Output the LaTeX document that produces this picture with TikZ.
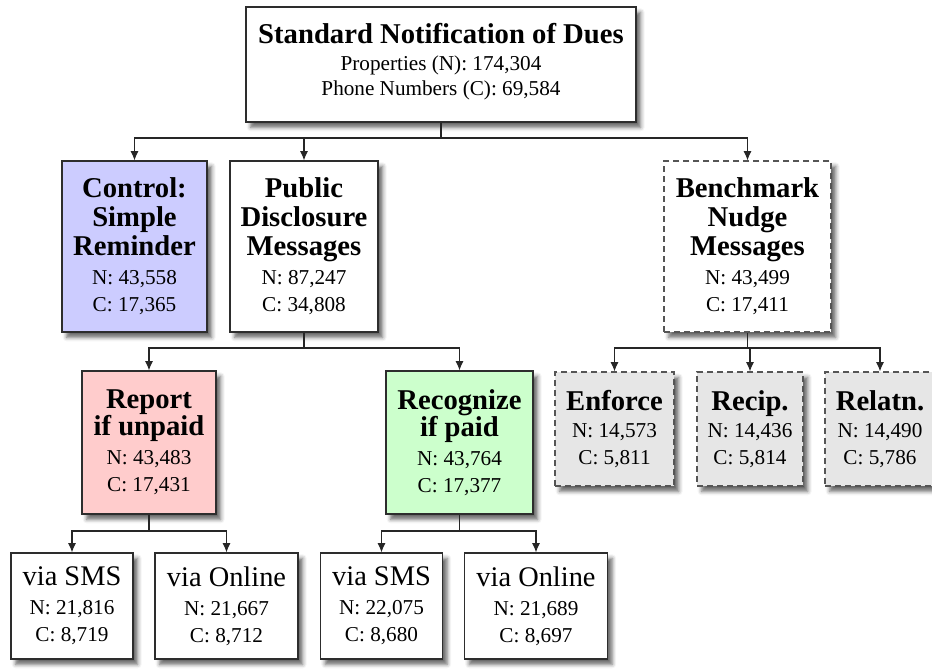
\documentclass[tikz,border=0pt]{standalone}
\usepackage{fontspec}
\setmainfont{Liberation Serif}
\usetikzlibrary{arrows.meta, shadows.blur}

\definecolor{ctrlblue}{RGB}{204,204,255}
\definecolor{reportred}{RGB}{255,204,204}
\definecolor{recoggreen}{RGB}{204,255,204}
\definecolor{benchgrey}{RGB}{230,230,230}
\definecolor{edgegrey}{RGB}{45,45,45}
\definecolor{dashgrey}{RGB}{85,85,85}

\newcommand{\hd}{\fontsize{21.5}{20.25}\selectfont\bfseries}
\newcommand{\vialine}{\fontsize{21.3}{20}\selectfont}

\begin{document}
\begin{tikzpicture}[x=0.75pt,y=0.75pt,yscale=-1,xscale=1,
	box/.style={draw=edgegrey, line width=0.8pt, fill=white, align=center, inner sep=0pt,
		font=\fontsize{15.9}{20.25}\selectfont,
		blur shadow={shadow xshift=3.5pt, shadow yshift=-4pt, shadow blur radius=3pt, shadow opacity=60}},
	dbox/.style={box, draw=dashgrey, dash pattern=on 4.5pt off 3pt},
	link/.style={draw=black!85, line width=0.8pt},
	arr/.style={link, -{Latex[length=7pt,width=6pt]}}]
		\useasboundingbox (0,0) rectangle (932,671);

		% Top box
		\node [box, minimum width=292.5pt, minimum height=86.25pt] (top) at (441,64.5) {\hd Standard Notification of Dues\\ Properties (N): 174,304\\[-1.25pt] Phone Numbers (C): 69,584\\[-12.25pt] \mbox{}};

		% Second row
		\node [box, fill=ctrlblue, minimum width=108.75pt, minimum height=128.25pt] (ctrl) at (134.5,246.5) {\hd Control:\\[1.5pt] \hd Simple\\[1.5pt] \hd Reminder\\[1.5pt] N: 43,558\\ C: 17,365};
		\node [box, minimum width=111pt, minimum height=128.25pt] (pub) at (304,246.5) {\hd Public\\[1.5pt] \hd Disclosure\\[1.5pt] \hd Messages\\[1.5pt] N: 87,247\\ C: 34,808};
		\node [dbox, minimum width=125.25pt, minimum height=128.25pt] (bench) at (747.5,246.5) {\hd Benchmark\\[1.5pt] \hd Nudge\\[1.5pt] \hd Messages\\[1.5pt] N: 43,499\\ C: 17,411};

		% Third row
		\node [box, fill=reportred, minimum width=100.5pt, minimum height=107.25pt] (report) at (149,442.5) {\hd Report\\ \hd if unpaid\\[1.5pt] N: 43,483\\ C: 17,431};
		\node [box, fill=recoggreen, minimum width=110.25pt, minimum height=107.25pt] (recog) at (459.5,442.5) {\hd Recognize\\ \hd if paid\\[1.5pt] N: 43,764\\ C: 17,377};
		\node [dbox, fill=benchgrey, minimum width=89.25pt, minimum height=85.5pt] (enforce) at (614.5,429) {\hd Enforce\\ N: 14,573\\ C: 5,811};
		\node [dbox, fill=benchgrey, minimum width=79.5pt, minimum height=85.5pt] (recip) at (750,429) {\hd Recip.\\ N: 14,436\\ C: 5,814};
		\node [dbox, fill=benchgrey, minimum width=82.5pt, minimum height=85.5pt] (relatn) at (880,429) {\hd Relatn.\\ N: 14,490\\ C: 5,786};

		% Bottom row
		\node [box, minimum width=91.5pt, minimum height=79.5pt] (smsA) at (72,606) {\vialine via SMS\\[1.5pt] N: 21,816\\ C: 8,719};
		\node [box, minimum width=107.25pt, minimum height=79.5pt] (onlineA) at (226.5,606) {\vialine via Online\\[1.5pt] N: 21,667\\ C: 8,712};
		\node [box, minimum width=91.5pt, minimum height=79.5pt] (smsB) at (381.5,606) {\vialine via SMS\\[1.5pt] N: 22,075\\ C: 8,680};
		\node [box, minimum width=107.25pt, minimum height=79.5pt] (onlineB) at (536,606) {\vialine via Online\\[1.5pt] N: 21,689\\ C: 8,697};

		% Branch points
		\coordinate (splitTop) at (441,138);
		\coordinate (splitPub) at (304,348);
		\coordinate (splitBench) at (747.5,348);
		\coordinate (splitReport) at (149,531);
		\coordinate (splitRecog) at (459.5,531);

		% Connectors
		\draw [link] (top.south) -- (splitTop);
		\draw [arr] (splitTop) -| (ctrl.north);
		\draw [arr] (splitTop) -| (pub.north);
		\draw [arr] (splitTop) -| (bench.north);

		\draw [link] (pub.south) -- (splitPub);
		\draw [arr] (splitPub) -| (report.north);
		\draw [arr] (splitPub) -| (recog.north);

		\draw [link] (bench.south) -- (splitBench);
		\draw [arr] (splitBench) -| (enforce.north);
		\draw [arr] (splitBench) -| (recip.north);
		\draw [arr] (splitBench) -| (relatn.north);

		\draw [link] (report.south) -- (splitReport);
		\draw [arr] (splitReport) -| (smsA.north);
		\draw [arr] (splitReport) -| (onlineA.north);

		\draw [link] (recog.south) -- (splitRecog);
		\draw [arr] (splitRecog) -| (smsB.north);
		\draw [arr] (splitRecog) -| (onlineB.north);

\end{tikzpicture}
\end{document}
